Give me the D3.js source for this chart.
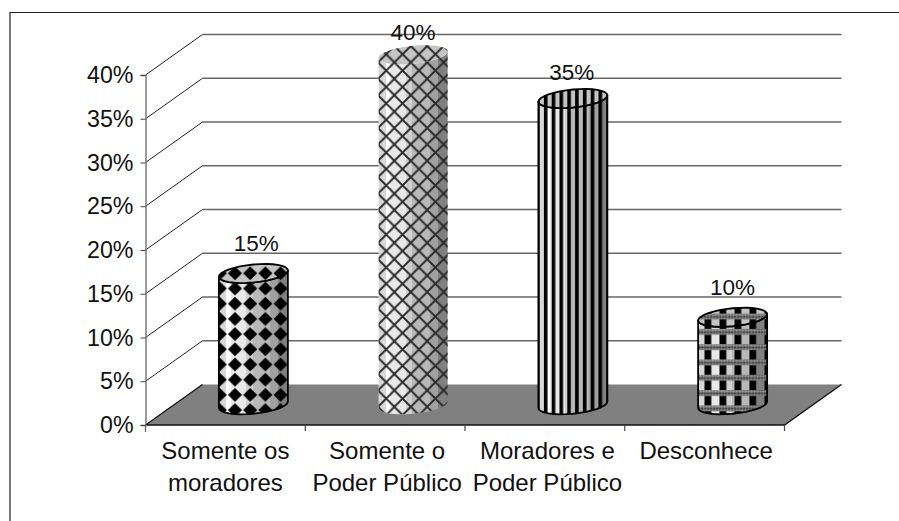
<!DOCTYPE html>
<html>
<head>
<meta charset="utf-8">
<script src="https://cdn.jsdelivr.net/npm/d3@7/dist/d3.min.js"></script>
<style>
  html, body { margin: 0; padding: 0; background: #fff; }
  svg { display: block; }
  text { font-family: "Liberation Sans", Arial, sans-serif; font-size: 22.5px; fill: #111; }
</style>
</head>
<body>
<svg id="chart" width="899" height="521"></svg>
<script>
// Survey shares, one cylinder per answer
const categories = ["Somente os moradores", "Somente o Poder Público", "Moradores e Poder Público", "Desconhece"];
const categoryLines = [["Somente os", "moradores"], ["Somente o", "Poder Público"], ["Moradores e", "Poder Público"], ["Desconhece"]];
const values = [15, 40, 35, 10];
const yTicks = [0, 5, 10, 15, 20, 25, 30, 35, 40];

// Layout of the oblique 3-D box
const frontLeft = 145.5, frontRight = 784.5, yBase = 425, yTop = 75;
const depthX = 57, depthY = -40.5;
const radiusX = 34.5, radiusY = 9, rimTilt = 3.2;
const labelLift = [23, 14.5, 19, 22];
const labelShift = [0, 2, 2.5, 1.5];
const patternIds = ["diamonds", "lattice", "stripes", "plaid"];
const outlined = [true, false, true, true];

const svg = d3.select("#chart");
const defs = svg.append("defs");

const x = d3.scaleBand().domain(categories).range([frontLeft, frontRight]);
const y = d3.scaleLinear().domain([0, 40]).range([yBase, yTop]);

// Facet shading of the cylinder wall, left to right
const facets = [[0, "#d8d8d8"], [.1, "#ffffff"], [.17, "#e8e8e8"], [.39, "#d0d0d0"], [.49, "#b8b8b8"], [.74, "#a0a0a0"], [.86, "#808080"], [1, "#808080"]];
const shade = defs.append("linearGradient").attr("id", "wall");
facets.forEach((f, i) => {
  shade.append("stop").attr("offset", f[0]).attr("stop-color", f[1]);
  if (i < facets.length - 1) shade.append("stop").attr("offset", facets[i + 1][0]).attr("stop-color", f[1]);
});

function tile(id, ox, oy, w, h) {
  return defs.append("pattern").attr("id", id).attr("patternUnits", "userSpaceOnUse")
    .attr("x", ox).attr("y", oy).attr("width", w).attr("height", h);
}

// Black diamonds
const pd = tile("diamonds", 227.4, 265.7, 15.2, 15.2);
pd.append("path").attr("d", "M7.6 0.6L14.6 7.6L7.6 14.6L0.6 7.6Z").attr("fill", "#000");

// Crossed diagonal lattice
const pl = tile("lattice", 378, 46, 16.4, 16.4);
pl.append("path").attr("d", "M0 0L16.4 16.4M16.4 0L0 16.4").attr("stroke", "#2a2a2a").attr("stroke-width", 1.9).attr("fill", "none");

// Vertical stripes
const ps = tile("stripes", 543.9, 0, 7.8, 10);
ps.append("rect").attr("width", 3.6).attr("height", 10).attr("fill", "#000");

// Stippled bands over black squares
const stipple = tile("stipple", 0, 0, 3, 3);
stipple.append("rect").attr("width", 3).attr("height", 3).attr("fill", "#6e6e6e");
stipple.append("rect").attr("x", 0).attr("y", 0).attr("width", 1.2).attr("height", 1.2).attr("fill", "#1a1a1a");
stipple.append("rect").attr("x", 1.5).attr("y", 1.5).attr("width", 1).attr("height", 1).attr("fill", "#ccc");
const pp = tile("plaid", 704.5, 301.1, 15, 15.3);
pp.append("rect").attr("x", 0).attr("y", 3).attr("width", 6.8).attr("height", 9.5).attr("fill", "#000");
pp.append("rect").attr("x", 0).attr("y", 12.8).attr("width", 15).attr("height", 5.5).attr("fill", "url(#stipple)");
pp.append("rect").attr("x", 0).attr("y", -2.5).attr("width", 15).attr("height", 5.5).attr("fill", "url(#stipple)");

// Outer frame, open on the right and bottom
svg.append("path").attr("d", d3.line()([[10, 521], [10, 12.5], [899, 12.5]]))
  .attr("fill", "none").attr("stroke", "#222").attr("stroke-width", 1.2);

// Back wall gridlines and their diagonals on the side wall
const wall = svg.append("g");
wall.selectAll("line.grid").data(yTicks.slice(1)).join("line").attr("class", "grid")
  .attr("x1", frontLeft + depthX).attr("x2", frontRight + depthX)
  .attr("y1", d => y(d) + depthY).attr("y2", d => y(d) + depthY)
  .attr("stroke", "#666").attr("stroke-width", 1.3);
wall.selectAll("line.side").data(yTicks.slice(1)).join("line").attr("class", "side")
  .attr("x1", frontLeft).attr("x2", frontLeft + depthX)
  .attr("y1", d => y(d)).attr("y2", d => y(d) + depthY)
  .attr("stroke", "#222").attr("stroke-width", 1);

// Floor
svg.append("path")
  .attr("d", d3.line()([[frontLeft, yBase], [frontRight, yBase], [frontRight + depthX, yBase + depthY], [frontLeft + depthX, yBase + depthY]]) + "Z")
  .attr("fill", "#808080");
svg.append("path")
  .attr("d", d3.line()([[frontLeft + depthX, yBase + depthY], [frontLeft, yBase], [frontRight, yBase], [frontRight + depthX, yBase + depthY]]))
  .attr("fill", "none").attr("stroke", "#111").attr("stroke-width", 1.3);

// Value axis
const yAxis = svg.append("g").attr("transform", `translate(${frontLeft},0)`)
  .call(d3.axisLeft(y).tickValues(yTicks).tickSize(5).tickPadding(7).tickFormat(d => d + "%"));
yAxis.select(".domain").attr("stroke", "#666").attr("stroke-width", 1.3);
yAxis.selectAll(".tick line").attr("stroke", "#444");
yAxis.selectAll("text").attr("dy", null).attr("y", 7.7).style("font-size", "23.2px").style("font-family", '"Liberation Sans", Arial, sans-serif').attr("fill", "#111");
svg.append("line").attr("x1", frontLeft).attr("x2", frontLeft).attr("y1", yBase).attr("y2", yBase + 7).attr("stroke", "#666").attr("stroke-width", 1.3);

// Category axis: ticks sit on the band boundaries, labels wrap to two lines
const edges = categories.map(c => x(c) + x.bandwidth());
svg.selectAll("line.xt").data(edges).join("line").attr("class", "xt")
  .attr("x1", d => d).attr("x2", d => d).attr("y1", yBase).attr("y2", yBase + 6)
  .attr("stroke", "#444").attr("stroke-width", 1.2);
const xAxis = svg.append("g").attr("transform", `translate(0,${yBase})`)
  .call(d3.axisBottom(x).tickSize(0).tickFormat(""));
xAxis.select(".domain").remove();
xAxis.selectAll(".tick").each(function (c) {
  const i = categories.indexOf(c);
  const t = d3.select(this).select("text").attr("y", null).attr("dy", null)
    .style("font-size", "24px").style("font-family", '"Liberation Sans", Arial, sans-serif').attr("fill", "#111")
    .attr("text-anchor", "middle");
  categoryLines[i].forEach((line, k) => {
    t.append("tspan").attr("x", labelShift[i]).attr("y", 33.5 + k * 32).text(line);
  });
});

// Cylinders stand at mid-depth of the box
const rimPoint = (cx, cy, a) => [cx + radiusX * Math.cos(a), cy - rimTilt * Math.cos(a) + radiusY * Math.sin(a)];
const angles = d3.range(0, 17).map(k => k * Math.PI / 16);
const line = d3.line();

const bars = svg.selectAll("g.bar").data(values).join("g").attr("class", "bar");
bars.each(function (v, i) {
  const g = d3.select(this);
  const cx = x(categories[i]) + x.bandwidth() / 2 + depthX / 2 - 0.5;
  const top = y(v) + depthY / 2;
  const bottom = y(0) + depthY / 2;
  const front = angles.map(a => rimPoint(cx, top, a));
  const back = angles.map(a => rimPoint(cx, top, -a));
  const base = angles.map(a => rimPoint(cx, bottom, a)).reverse();
  const wallPath = line(front.concat(base)) + "Z";
  const capPath = line(front.concat(back.slice().reverse())) + "Z";
  const stroke = outlined[i] ? "#000" : "none";

  g.append("path").attr("d", wallPath).attr("fill", "url(#wall)");
  g.append("path").attr("d", wallPath).attr("fill", `url(#${patternIds[i]})`)
    .attr("stroke", stroke).attr("stroke-width", 1.8).attr("stroke-linejoin", "round");
  g.append("path").attr("d", capPath).attr("fill", "#c4c4c4");
  g.append("path").attr("d", capPath).attr("fill", `url(#${patternIds[i]})`)
    .attr("stroke", stroke).attr("stroke-width", 1.8).attr("stroke-linejoin", "round");

  g.append("text").attr("x", cx + [3, 0, -1, 0][i]).attr("y", top - labelLift[i])
    .attr("text-anchor", "middle").text(v + "%");
});
</script>
</body>
</html>
